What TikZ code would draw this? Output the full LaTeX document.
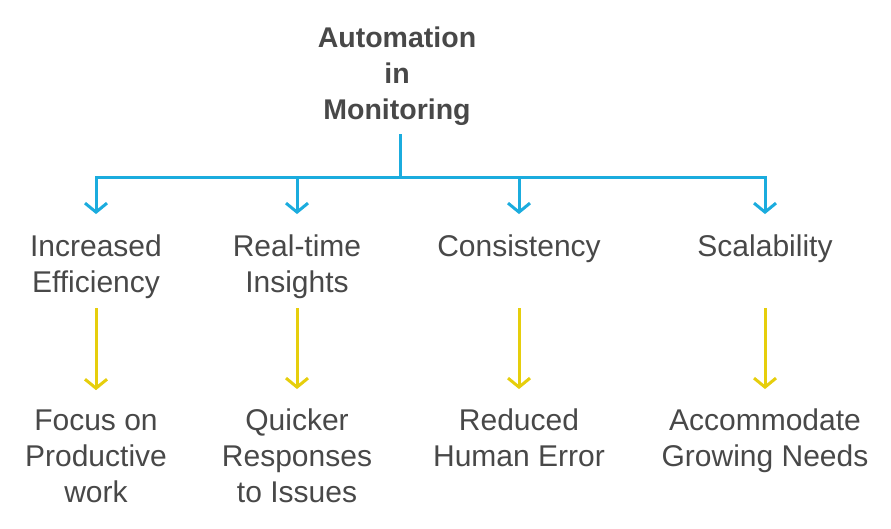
\documentclass[tikz,border=0pt]{standalone}
\usepackage{fontspec}
\setmainfont{Liberation Sans}
\usetikzlibrary{arrows.meta}
\definecolor{linkblue}{RGB}{27,172,222}
\definecolor{linkyellow}{RGB}{230,206,12}
\definecolor{txtgray}{RGB}{72,72,72}

\begin{document}
\begin{tikzpicture}[x=1pt, y=-1pt,
  txt/.style = {align=center, text=txtgray, inner sep=0pt, anchor=base,
                font=\fontsize{30}{36}\selectfont},
  head/.style = {txt, font=\fontsize{28.5}{36}\selectfont\bfseries},
  bluelink/.style = {draw=linkblue, line width=3pt},
  yellowlink/.style = {draw=linkyellow, line width=3pt},
  tip/.style = {-{Straight Barb[length=9pt, width=22pt]}}]
\useasboundingbox (0,0) rectangle (891,528);

% base anchor = baseline of the last line
\node[head] (auto) at (397,119) {Automation\\in\\Monitoring};

\node[txt] (eff) at (96,292) {Increased\\Efficiency};
\node[txt] (ins) at (297,292) {Real-time\\Insights};
\node[txt] (con) at (519,256) {Consistency};
\node[txt] (sca) at (765,256) {Scalability};

\node[txt] (foc) at (96,502) {Focus on\\Productive\\work};
\node[txt] (qui) at (297,502) {Quicker\\Responses\\to Issues};
\node[txt] (red) at (519,466) {Reduced\\Human Error};
\node[txt] (acc) at (765,466) {Accommodate\\Growing Needs};

\coordinate (bus) at (400,177);
\draw[bluelink, shorten <=9pt] (bus |- auto.south) -- (bus);
\foreach \n in {eff, ins, con, sca}
  \draw[bluelink, tip, shorten >=20pt] (bus) -| (\n.north);

\draw[yellowlink, tip, shorten <=10pt, shorten >=19pt] (eff.south) -- (foc.north);
\draw[yellowlink, tip, shorten <=10pt, shorten >=19pt] (ins.south) -- (qui.north);
\draw[yellowlink, tip, shorten <=10pt, shorten >=19pt] (con |- eff.south) -- (red.north);
\draw[yellowlink, tip, shorten <=10pt, shorten >=19pt] (sca |- eff.south) -- (acc.north);
\end{tikzpicture}
\end{document}
